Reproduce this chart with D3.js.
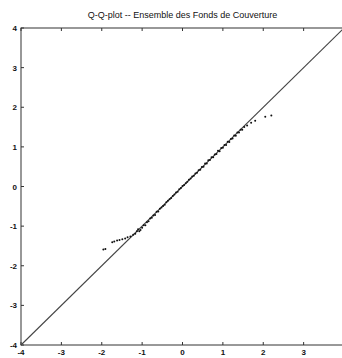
<!DOCTYPE html>
<html>
<head>
<meta charset="utf-8">
<script src="https://cdn.jsdelivr.net/npm/d3@7"></script>
<style>
  body { margin:0; background:#fff; }
  svg { display:block; }
  text { font-family: "Liberation Sans", Arial, sans-serif; fill:#111; }
</style>
</head>
<body>
<div id="chart"></div>
<script>
// theoretical quantiles (x) and sample quantiles (y)
var qTheo = [-1.96,-1.91,-1.74,-1.69,-1.62,-1.56,-1.49,-1.42,-1.36,-1.29,-1.22,
  -1.17,-1.13,-1.10,-1.07,-1.04,-1.00,-0.96,-0.92,-0.88,-0.84,-0.80,-0.76,-0.72,-0.68,
  -0.64,-0.60,-0.56,-0.52,-0.48,-0.44,-0.40,-0.36,-0.32,-0.28,-0.24,-0.20,-0.16,-0.12,
  -0.08,-0.04,0.00,0.04,0.08,0.12,0.16,0.20,0.24,0.28,0.32,0.36,0.40,0.44,0.48,0.52,
  0.56,0.60,0.64,0.68,0.72,0.76,0.80,0.84,0.88,0.92,0.96,1.00,1.04,1.08,1.12,1.16,
  1.20,1.24,1.28,1.32,1.36,1.40,1.44,1.48,1.53,1.60,1.70,1.80,2.05,2.20];
var qSample = [-1.59,-1.58,-1.41,-1.39,-1.36,-1.35,-1.33,-1.31,-1.28,-1.26,-1.22,
  -1.19,-1.13,-1.08,-1.13,-1.10,-1.04,-0.98,-0.98,-0.90,-0.88,-0.81,-0.79,-0.73,-0.72,
  -0.64,-0.63,-0.56,-0.53,-0.49,-0.46,-0.40,-0.36,-0.32,-0.29,-0.24,-0.20,-0.15,-0.13,
  -0.07,-0.04,0.01,0.04,0.08,0.12,0.17,0.20,0.25,0.27,0.33,0.35,0.41,0.42,0.49,0.50,
  0.58,0.58,0.66,0.67,0.74,0.74,0.81,0.82,0.90,0.89,0.97,0.98,1.05,1.05,1.13,1.12,
  1.20,1.21,1.29,1.28,1.36,1.36,1.43,1.43,1.50,1.54,1.61,1.66,1.76,1.79];
var refLine = [-4, 4];
var ticks = [-4,-3,-2,-1,0,1,2,3];
var title = 'Q-Q-plot -- Ensemble des Fonds de Couverture';

var m = {t:28, r:0, b:13, l:21},
    W = 342, H = 358;

var svg = d3.select('#chart').append('svg')
    .attr('width', W).attr('height', H);

var x = d3.scaleLinear().domain([-4,4]).range([m.l, 344]);
var y = d3.scaleLinear().domain([-4,4]).range([H - m.b, m.t]);

var stroke = '#333';

//frame
svg.append('rect')
    .attr('x', x(-4)).attr('y', y(4))
    .attr('width', x(4) - x(-4)).attr('height', y(-4) - y(4))
    .attr('fill','none').attr('stroke',stroke).attr('stroke-width',1);

//ticks pointing inward
ticks.forEach(function(t){
  svg.append('line').attr('x1',x(t)).attr('x2',x(t))
    .attr('y1',y(-4)).attr('y2',y(-4)-3).attr('stroke',stroke);
  svg.append('line').attr('x1',x(t)).attr('x2',x(t))
    .attr('y1',y(4)).attr('y2',y(4)+3).attr('stroke',stroke);
});
ticks.concat([4]).forEach(function(t){
  svg.append('line').attr('y1',y(t)).attr('y2',y(t))
    .attr('x1',x(-4)).attr('x2',x(-4)+3).attr('stroke',stroke);
});

//tick labels
svg.selectAll('.xl').data(ticks).enter().append('text')
    .attr('class','xl')
    .attr('x', function(d){ return x(d); })
    .attr('y', y(-4) + 10)
    .attr('text-anchor','middle')
    .attr('font-size', 8).attr('font-weight','bold')
    .text(String);
svg.selectAll('.yl').data(ticks.concat([4])).enter().append('text')
    .attr('class','yl')
    .attr('x', x(-4) - 4)
    .attr('y', function(d){ return y(d) + 3; })
    .attr('text-anchor','end')
    .attr('font-size', 8).attr('font-weight','bold')
    .text(String);

//title
svg.append('text')
    .attr('x', (x(-4) + x(4)) / 2)
    .attr('y', 18)
    .attr('text-anchor','middle')
    .attr('font-size', 9)
    .text(title);

//reference line
svg.append('line')
    .attr('x1', x(refLine[0])).attr('y1', y(refLine[0]))
    .attr('x2', x(refLine[1])).attr('y2', y(refLine[1]))
    .attr('stroke','#444').attr('stroke-width',1.1);

//points
svg.selectAll('.pt').data(qTheo).enter().append('circle')
    .attr('class','pt')
    .attr('cx', function(d){ return x(d); })
    .attr('cy', function(d,i){ return y(qSample[i]); })
    .attr('r', 1)
    .attr('fill','#111');
</script>
</body>
</html>
